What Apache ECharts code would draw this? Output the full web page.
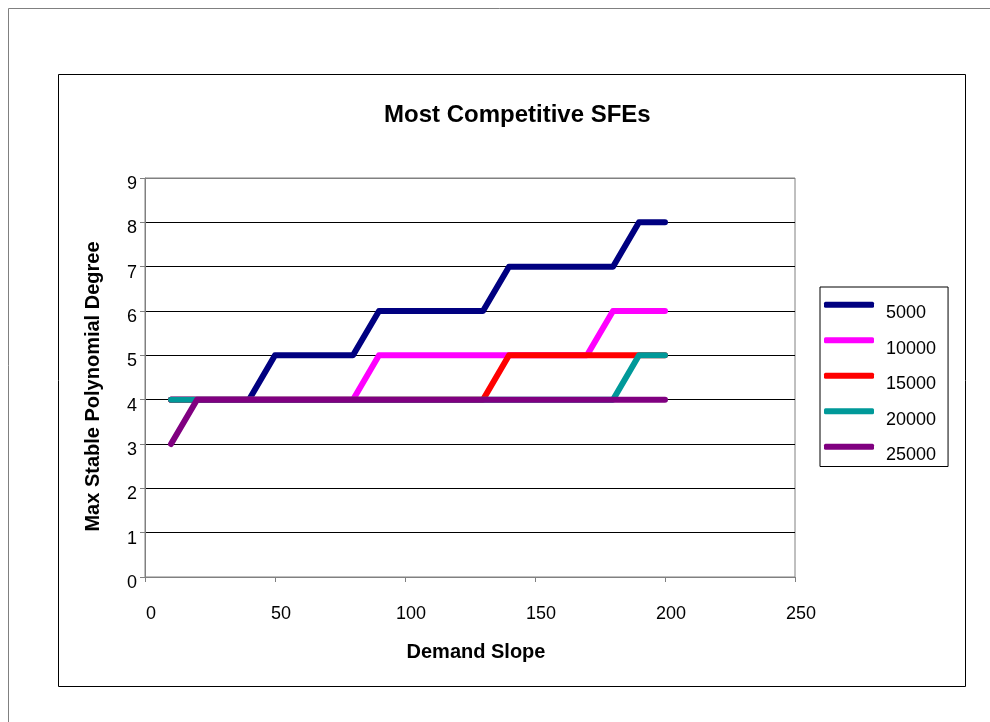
<!DOCTYPE html>
<html>
<head>
<meta charset="utf-8">
<script src="https://cdn.jsdelivr.net/npm/echarts@6/dist/echarts.min.js"></script>
<style>
html,body{margin:0;padding:0;background:#fff;}
#c{width:990px;height:722px;}
</style>
</head>
<body>
<div id="c"></div>
<script>
var demandSlope = [10,20,30,40,50,60,70,80,90,100,110,120,130,140,150,160,170,180,190,200];
var seriesNames = ['5000','10000','15000','20000','25000'];
var s5000  = [4,4,4,4,5,5,5,5,6,6,6,6,6,7,7,7,7,7,8,8];
var s10000 = [4,4,4,4,4,4,4,4,5,5,5,5,5,5,5,5,5,6,6,6];
var s15000 = [4,4,4,4,4,4,4,4,4,4,4,4,4,5,5,5,5,5,5,5];
var s20000 = [4,4,4,4,4,4,4,4,4,4,4,4,4,4,4,4,4,4,5,5];
var s25000 = [3,4,4,4,4,4,4,4,4,4,4,4,4,4,4,4,4,4,4,4];
var yTicks = [0,1,2,3,4,5,6,7,8,9];
var xTicks = [0,50,100,150,200,250];

var allValues = [s5000, s10000, s15000, s20000, s25000];
var colors = ['#000080','#FF00FF','#FF0000','#009999','#800080'];

function pairs(vals){ return demandSlope.map(function(x,i){ return [x, vals[i]]; }); }

var splitColors = yTicks.map(function(v,i){ return (i===0||i===yTicks.length-1) ? '#808080' : '#000000'; });
var FF = 'Liberation Sans, Arial, sans-serif';

var chart = echarts.init(document.getElementById('c'), null, {renderer:'canvas'});
chart.setOption({
  animation:false,
  backgroundColor:'#ffffff',
  textStyle:{fontFamily:FF},
  graphic:[
    {type:'rect', shape:{x:8.5,y:8.5,width:1100,height:1100}, style:{fill:'none',stroke:'#808080',lineWidth:1}, z:-10},
    {type:'rect', shape:{x:58.5,y:74.5,width:907,height:612}, style:{fill:'none',stroke:'#000000',lineWidth:1}, z:-10}
  ],
  title:{
    text:'Most Competitive SFEs',
    left:384, top:103, padding:0,
    textStyle:{fontFamily:FF,fontWeight:'bold',fontSize:24,color:'#000'}
  },
  grid:{left:145, top:178, right:195, bottom:145, show:true, borderColor:'#808080', borderWidth:1, containLabel:false},
  xAxis:{
    type:'value', min:xTicks[0], max:xTicks[xTicks.length-1], interval:50,
    name:'Demand Slope', nameLocation:'middle', nameGap:65,
    nameTextStyle:{fontFamily:FF,fontWeight:'bold',fontSize:20,color:'#000',padding:[0,0,0,12]},
    axisLine:{show:true,lineStyle:{color:'#808080',width:1}},
    axisTick:{show:true,inside:false,length:5,lineStyle:{color:'#808080'}},
    axisLabel:{margin:28,fontSize:18,color:'#000',fontFamily:FF,padding:[0,0,0,12]},
    splitLine:{show:false}
  },
  yAxis:{
    type:'value', min:yTicks[0], max:yTicks[yTicks.length-1], interval:1,
    name:'Max Stable Polynomial Degree', nameLocation:'middle', nameGap:42,
    nameTextStyle:{fontFamily:FF,fontWeight:'bold',fontSize:20,color:'#000',padding:[0,18,0,0]},
    axisLine:{show:true,lineStyle:{color:'#808080',width:1}},
    axisTick:{show:true,inside:false,length:5,lineStyle:{color:'#808080'}},
    axisLabel:{margin:8,fontSize:18,color:'#000',fontFamily:FF,lineHeight:12,
      formatter:function(v){ return '\n' + v; }},
    splitLine:{show:true,lineStyle:{color:splitColors,width:1}}
  },
  legend:{
    orient:'vertical', left:820, top:287,
    data:seriesNames,
    icon:'roundRect', itemWidth:50, itemHeight:6, itemGap:0,
    borderColor:'#000', borderWidth:1, padding:[0,12,2,4],
    backgroundColor:'#fff',
    formatter:function(n){ return '\n' + n; },
    textStyle:{fontSize:18,color:'#000',fontFamily:FF,lineHeight:17.5,padding:[0,0,0,7]}
  },
  series: seriesNames.map(function(n,i){
    return {
      name:n, type:'line', data:pairs(allValues[i]),
      showSymbol:false, symbol:'none',
      color:colors[i],
      lineStyle:{color:colors[i],width:6,cap:'round',join:'round'},
      z:2+i
    };
  })
});
</script>
</body>
</html>
